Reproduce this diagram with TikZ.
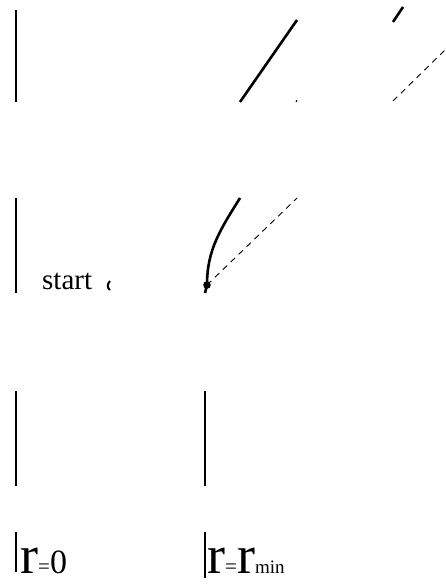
\documentclass[tikz,border=0pt]{standalone}
\usepackage{fontspec}
\setmainfont{Liberation Serif}
\tikzset{
  wall/.style={line width=1.1pt},
  orbit/.style={line width=2.6pt},
  tangent/.style={line width=0.9pt,dash pattern=on 6pt off 5pt},
  lbl/.style={inner sep=0pt,anchor=base west}
}
\begin{document}
\begin{tikzpicture}[x=1pt,y=-1pt]
\path[use as bounding box] (0,0) rectangle (445,585);
\draw[wall] (16,10) -- (16,102);
\draw[orbit] (240,102) -- (297,20);
\draw[line width=1pt] (296,102) -- (297,100);
\draw[orbit] (393,22) -- (403,7);
\draw[tangent] (393,101) -- (445,50);
\draw[wall] (16,198) -- (16,293);
\node[lbl] (start) at (42,289) {\fontsize{29}{29}\selectfont start};
\draw[line width=2pt] (110,281) .. controls (107,284) and (107,288) .. (110,290);
\coordinate (turn) at (207,285);
\coordinate (outC) at (240,198);
\coordinate (outT) at (297,198);
\draw[orbit] (205,293) -- (turn) .. controls (207,250) and (220,230) .. (outC);
\draw[tangent] (turn) -- (outT);
\fill (turn) circle (3.8);
\draw[wall] (16,391) -- (16,486);
\draw[orbit] (205,391) -- (205,486);
\draw[wall] (16,532) -- (16,572);
\draw[orbit] (205,532) -- (205,578);
\node[lbl] (rzero) at (20,573) {\fontsize{54}{54}\selectfont r\fontsize{21}{21}\selectfont =\fontsize{34}{34}\selectfont 0};
\node[lbl] (rmin) at (207,573) {\fontsize{54}{54}\selectfont r\fontsize{21}{21}\selectfont =\fontsize{54}{54}\selectfont r\fontsize{19}{19}\selectfont min};
\end{tikzpicture}
\end{document}
